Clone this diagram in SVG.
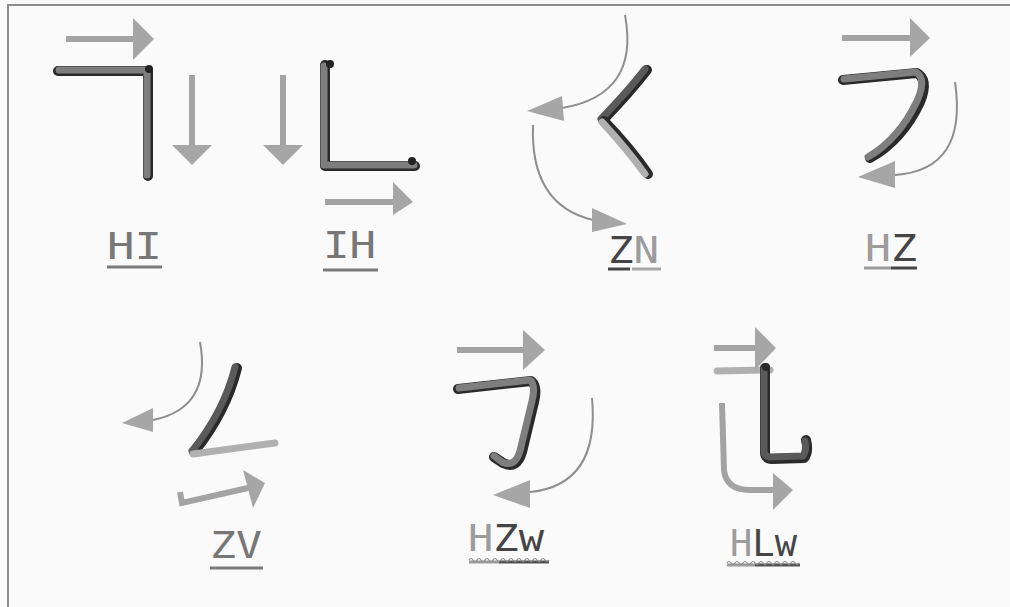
<svg xmlns="http://www.w3.org/2000/svg" width="1010" height="607" viewBox="0 0 1010 607">
  <style>
    .frame { stroke: #8c8c8c; stroke-width: 2; fill: none; }
    .shaft { stroke: #a3a3a3; stroke-width: 6; fill: none; }
    .curve { stroke: #8e8e8e; stroke-width: 2; fill: none; }
    .head { fill: #a6a6a6; }
    .edge { stroke: #2a2a2a; stroke-width: 10; fill: none; stroke-linecap: round; stroke-linejoin: round; }
    .ink { stroke: #7e7e7e; stroke-width: 7; fill: none; stroke-linecap: round; stroke-linejoin: round; }
    .ink-dark { stroke: #5a5a5a; }
    .ink-light { stroke: #b0b0b0; }
    .label { font-family: "DejaVu Sans Mono", "Liberation Mono", monospace; font-size: 37px; fill: #777; }
    .dark { fill: #454545; }
    .light { fill: #9c9c9c; }
    .ul { stroke-width: 3; fill: none; }
    .wave { stroke-width: 1.2; fill: none; }
  </style>

  <rect width="1010" height="607" fill="#fafafa"/>
  <path class="frame" d="M1010,5 H8 V607"/>

  <!-- HI: horizontal then vertical -->
  <g id="hi">
    <path class="edge" d="M58,71 L148,71 L148,176"/>
    <path class="ink" d="M59,70 L147,70 L147,175"/>
    <circle cx="149" cy="69" r="4" fill="#222"/>
    <g class="arrows">
      <path class="shaft" d="M66,39 H136"/>
      <polygon class="head" points="133,18 154,39 133,60"/>
      <path class="shaft" d="M192,75 V147"/>
      <polygon class="head" points="172,145 212,145 192,165"/>
    </g>
    <text class="label" x="107" y="259" textLength="55" lengthAdjust="spacingAndGlyphs">HI</text>
    <path class="ul" stroke="#7a7a7a" d="M107,267 H162"/>
  </g>

  <!-- IH: vertical then horizontal -->
  <g id="ih">
    <path class="edge" d="M325,65 L325,166 L415,166"/>
    <path class="ink" d="M324,66 L324,165 L414,165"/>
    <circle cx="330" cy="64" r="4" fill="#222"/>
    <circle cx="412" cy="161" r="4" fill="#222"/>
    <g class="arrows">
      <path class="shaft" d="M283,75 V147"/>
      <polygon class="head" points="263,145 303,145 283,165"/>
      <path class="shaft" d="M325,202 H395"/>
      <polygon class="head" points="393,182 413,202 393,215"/>
    </g>
    <text class="label" x="323" y="258" textLength="53" lengthAdjust="spacingAndGlyphs">IH</text>
    <path class="ul" stroke="#7a7a7a" d="M323,270 H378"/>
  </g>

  <!-- ZN: falling left then falling right -->
  <g id="zn">
    <path class="edge" d="M647,70 Q630,92 603,120"/>
    <path class="ink ink-dark" d="M645,69 Q628,91 601,119"/>
    <path class="edge" stroke-width="9" d="M604,121 Q630,148 648,174"/>
    <path class="ink ink-light" stroke-width="6" d="M602,122 Q627,149 645,174"/>
    <g class="arrows">
      <path class="curve" d="M625,15 Q640,95 562,108"/>
      <polygon class="head" points="527,111 562,96 564,121"/>
      <path class="curve" d="M533,125 Q530,205 593,220"/>
      <polygon class="head" points="627,224 592,208 592,232"/>
    </g>
    <text class="label" x="608" y="263" textLength="51" lengthAdjust="spacingAndGlyphs"><tspan class="dark">Z</tspan><tspan class="light">N</tspan></text>
    <path class="ul" stroke="#454545" d="M608,269 H630"/>
    <path class="ul" stroke="#a8a8a8" d="M632,269 H661"/>
  </g>

  <!-- HZ: horizontal then falling left -->
  <g id="hz">
    <path class="edge" d="M843,80 L917,73 Q929,80 920,102 Q902,140 870,158"/>
    <path class="ink" d="M844,79 L916,72 Q927,79 917,101 Q899,139 868,157"/>
    <g class="arrows">
      <path class="shaft" d="M842,38 H912"/>
      <polygon class="head" points="910,18 930,38 910,57"/>
      <path class="curve" d="M955,82 Q968,170 895,175"/>
      <polygon class="head" points="858,177 895,161 895,188"/>
    </g>
    <text class="label" x="865" y="261" textLength="52" lengthAdjust="spacingAndGlyphs"><tspan class="light">H</tspan><tspan class="dark">Z</tspan></text>
    <path class="ul" stroke="#9c9c9c" d="M864,268 H891"/>
    <path class="ul" stroke="#454545" d="M891,268 H917"/>
  </g>

  <!-- ZV: falling left then rising right -->
  <g id="zv">
    <path class="edge" d="M237,368 Q226,412 194,452"/>
    <path class="ink ink-dark" d="M235,367 Q224,411 192,451"/>
    <path class="ink ink-light" stroke-width="9" d="M193,454 L275,443"/>
    <g class="arrows">
      <path class="curve" d="M200,342 Q212,408 153,420"/>
      <polygon class="head" points="122,423 153,408 153,432"/>
      <path class="shaft" stroke-width="3" d="M180,492 L182,503 L248,488"/>
      <polygon class="head" points="265,483 243,470 253,508"/>
    </g>
    <text class="label" x="210" y="558" textLength="52" lengthAdjust="spacingAndGlyphs">ZV</text>
    <path class="ul" stroke="#7a7a7a" d="M210,568 H263"/>
  </g>

  <!-- HZw: horizontal, vertical, hook -->
  <g id="hzw">
    <path class="edge" d="M458,389 L531,381 Q538,386 534,402 L522,452 Q517,470 503,463 L494,457"/>
    <path class="ink" d="M459,388 L530,380 Q536,385 532,401 L520,451 Q515,468 502,462 L494,456"/>
    <g class="arrows">
      <path class="shaft" d="M457,350 H525"/>
      <polygon class="head" points="523,330 545,350 523,370"/>
      <path class="curve" d="M592,398 Q600,485 530,492"/>
      <polygon class="head" points="493,495 530,480 530,508"/>
    </g>
    <text class="label" x="468" y="551" textLength="76" lengthAdjust="spacingAndGlyphs"><tspan class="light">H</tspan><tspan class="dark">Zw</tspan></text>
    <path class="ul" stroke="#9c9c9c" stroke-width="2" d="M469,562 H499"/>
    <path class="ul" stroke="#555" stroke-width="2" d="M499,562 H549"/>
    <path class="wave" stroke="#8a8a8a" d="M469,560 q2,-3 4,0 t4,0 t4,0 t4,0 t4,0 t4,0 t4,0 t4,0 t4,0 t4,0 t4,0 t4,0 t4,0 t4,0 t4,0 t4,0 t4,0 t4,0 t4,0 t4,0"/>
  </g>

  <!-- HLw: horizontal, vertical, bend, hook -->
  <g id="hlw">
    <path class="ink ink-light" stroke-width="6" d="M717,371 L770,370"/>
    <path class="edge" d="M765,368 L765,452 Q765,459 772,459 L804,458 Q809,452 806,440"/>
    <path class="ink ink-dark" d="M764,369 L764,451 Q764,457 771,457 L803,456 Q807,450 805,441"/>
    <circle cx="766" cy="367" r="4" fill="#2a2a2a"/>
    <g class="arrows">
      <path class="shaft" d="M714,348 H757"/>
      <polygon class="head" points="755,327 776,348 755,370"/>
      <path class="shaft" stroke-width="4" d="M722,403 L724,470 Q726,490 750,490 H775"/>
      <polygon class="head" points="773,473 793,490 773,510"/>
    </g>
    <text class="label" x="730" y="556" textLength="67" lengthAdjust="spacingAndGlyphs"><tspan class="light">H</tspan><tspan class="dark">Lw</tspan></text>
    <path class="ul" stroke="#9c9c9c" stroke-width="2" d="M727,565 H755"/>
    <path class="ul" stroke="#555" stroke-width="2" d="M755,565 H800"/>
    <path class="wave" stroke="#8a8a8a" d="M727,563 q2,-3 4,0 t4,0 t4,0 t4,0 t4,0 t4,0 t4,0 t4,0 t4,0 t4,0 t4,0 t4,0 t4,0 t4,0 t4,0 t4,0 t4,0 t4,0"/>
  </g>
</svg>
